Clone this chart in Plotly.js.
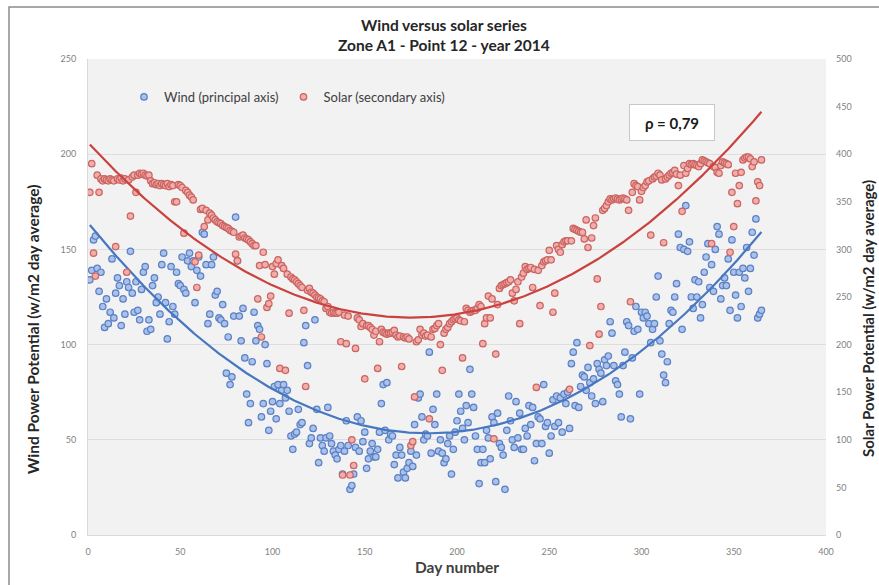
<!DOCTYPE html>
<html>
<head>
<meta charset="utf-8">
<script src="https://cdn.plot.ly/plotly-3.0.1.min.js"></script>
<style>
  html, body { margin: 0; padding: 0; background: #ffffff; }
  #chart { width: 879px; height: 585px; }
</style>
</head>
<body>
<div id="chart"></div>
<script>
// Daily wind power potential (w/m2 day average), days 1..365 - principal axis
const wind = [
  134, 139, 155, 157, 140, 128, 138, 120, 109, 124,
  111, 117, 145, 114, 127, 135, 131, 110, 124, 116,
  133, 130, 149, 127, 117, 133, 118, 113, 129, 138,
  141, 107, 113, 108, 131, 135, 122, 125, 116, 142,
  148, 122, 103, 112, 141, 120, 116, 138, 132, 131,
  146, 129, 127, 144, 148, 141, 144, 122, 139, 146,
  136, 159, 158, 142, 111, 116, 142, 146, 126, 128,
  114, 113, 121, 111, 85, 104, 79, 83, 115, 167,
  144, 115, 102, 119, 93, 74, 59, 69, 91, 117,
  102, 110, 108, 62, 69, 100, 90, 55, 65, 70,
  78, 61, 79, 69, 76, 79, 72, 76, 65, 52,
  45, 53, 54, 66, 58, 59, 101, 110, 89, 48,
  51, 56, 113, 66, 38, 51, 47, 44, 51, 67,
  52, 48, 44, 42, 40, 45, 47, 32, 44, 60,
  47, 24, 26, 32, 46, 62, 44, 60, 49, 54,
  35, 40, 44, 48, 41, 41, 45, 54, 69, 79,
  55, 80, 50, 53, 52, 37, 42, 30, 46, 42,
  33, 30, 35, 38, 44, 36, 58, 42, 72, 74,
  62, 50, 53, 52, 96, 43, 66, 58, 74, 44,
  50, 43, 38, 40, 48, 52, 32, 45, 54, 60,
  74, 65, 56, 50, 68, 59, 87, 74, 67, 52,
  45, 27, 38, 45, 38, 55, 51, 40, 62, 59,
  28, 64, 48, 46, 42, 24, 55, 73, 60, 50,
  46, 70, 51, 64, 45, 45, 56, 52, 68, 58,
  67, 39, 48, 62, 61, 48, 79, 57, 59, 43,
  52, 71, 57, 73, 59, 72, 54, 74, 69, 75,
  56, 90, 96, 68, 101, 67, 78, 84, 83, 76,
  88, 80, 73, 82, 69, 90, 87, 85, 70, 92,
  89, 94, 112, 106, 89, 81, 79, 74, 62, 89,
  96, 112, 110, 61, 93, 107, 120, 108, 74, 117,
  114, 117, 115, 111, 101, 108, 111, 125, 136, 102,
  95, 84, 80, 91, 111, 118, 117, 125, 132, 158,
  151, 108, 150, 173, 149, 154, 125, 119, 134, 125,
  133, 114, 121, 138, 146, 153, 130, 142, 128, 150,
  162, 158, 124, 131, 135, 131, 145, 118, 155, 138,
  126, 114, 138, 120, 140, 135, 151, 128, 140, 159,
  147, 166, 114, 116, 118
];

// Daily solar power potential (w/m2 day average), days 1..365 - secondary axis
const solar = [
  360, 390, 296, 272, 378, 360, 374, 372, 374, 373,
  372, 374, 373, 372, 303, 374, 373, 375, 372, 374,
  276, 373, 335, 376, 378, 360, 378, 380, 379, 380,
  378, 377, 378, 372, 369, 370, 368, 369, 367, 369,
  368, 367, 369, 366, 368, 367, 350, 350, 368, 367,
  365, 317, 362, 360, 357, 355, 352, 287, 260, 294,
  342, 343, 324, 341, 331, 338, 336, 333, 331, 329,
  328, 327, 325, 324, 323, 322, 320, 319, 318, 295,
  288, 313, 314, 315, 312, 311, 310, 308, 306, 304,
  304, 248, 283, 208, 297, 284, 239, 243, 251, 282,
  274, 285, 289, 175, 283, 280, 173, 274, 233, 271,
  269, 268, 266, 264, 262, 260, 236, 156, 257, 259,
  255, 254, 252, 250, 249, 248, 246, 245, 238, 240,
  234, 233, 234, 233, 233, 234, 203, 63, 231, 201,
  230, 63, 100, 73, 196, 228, 226, 219, 222, 164,
  220, 220, 218, 216, 210, 214, 175, 203, 216, 213,
  212, 211, 212, 212, 213, 215, 210, 208, 209, 177,
  208, 207, 208, 206, 94, 98, 145, 203, 205, 216,
  210, 212, 209, 210, 122, 208, 216, 217, 220, 222,
  200, 173, 212, 216, 218, 222, 224, 226, 227, 228,
  226, 225, 186, 224, 238, 236, 234, 235, 236, 236,
  238, 242, 240, 201, 222, 228, 251, 228, 248, 101,
  190, 242, 259, 262, 263, 264, 265, 266, 268, 254,
  246, 258, 266, 222, 271, 275, 282, 279, 280, 281,
  260, 279, 155, 278, 241, 283, 287, 288, 289, 299,
  289, 234, 254, 304, 300, 297, 305, 308, 309, 309,
  153, 309, 322, 321, 320, 319, 318, 318, 311, 331,
  302, 199, 312, 325, 333, 269, 211, 240, 341, 343,
  346, 350, 353, 352, 353, 354, 353, 352, 353, 354,
  353, 352, 341, 245, 360, 369, 367, 366, 352, 361,
  365, 367, 371, 372, 315, 374, 376, 377, 380, 378,
  373, 307, 374, 376, 378, 380, 381, 383, 379, 367,
  378, 340, 388, 380, 385, 390, 389, 390, 389, 388,
  387, 390, 394, 393, 392, 391, 390, 306, 387, 386,
  381, 380, 388, 392, 391, 390, 389, 297, 360, 324,
  380, 348, 367, 381, 394, 396, 397, 397, 395, 387,
  392, 351, 371, 367, 394
];

const xTicks = [0, 50, 100, 150, 200, 250, 300, 350, 400];
const windTicks = [0, 50, 100, 150, 200, 250];
const solarTicks = [0, 50, 100, 150, 200, 250, 300, 350, 400, 450, 500];
const rhoLabel = 'ρ = 0,79';

const days = wind.map((_, i) => i + 1);

// Second-order least-squares trend of a daily series
function quadFit(xs, ys) {
  let s = [0, 0, 0, 0, 0], t = [0, 0, 0];
  for (let i = 0; i < xs.length; i++) {
    const x = xs[i], y = ys[i];
    let p = 1;
    for (let k = 0; k < 5; k++) { s[k] += p; if (k < 3) t[k] += p * y; p *= x; }
  }
  // Solve [s0 s1 s2; s1 s2 s3; s2 s3 s4] * [c0 c1 c2] = t
  const A = [[s[0], s[1], s[2], t[0]], [s[1], s[2], s[3], t[1]], [s[2], s[3], s[4], t[2]]];
  for (let c = 0; c < 3; c++) {
    let piv = c;
    for (let r = c + 1; r < 3; r++) if (Math.abs(A[r][c]) > Math.abs(A[piv][c])) piv = r;
    [A[c], A[piv]] = [A[piv], A[c]];
    for (let r = 0; r < 3; r++) {
      if (r === c) continue;
      const f = A[r][c] / A[c][c];
      for (let k = c; k < 4; k++) A[r][k] -= f * A[c][k];
    }
  }
  const coef = [A[0][3] / A[0][0], A[1][3] / A[1][1], A[2][3] / A[2][2]];
  return xs.map(x => coef[0] + coef[1] * x + coef[2] * x * x);
}

const windTrend = quadFit(days, wind);
const solarTrend = quadFit(days, solar);

const font = 'Lato, "Open Sans", sans-serif';

const traces = [
  {
    x: days, y: wind, type: 'scatter', mode: 'markers', name: 'Wind (principal axis)',
    marker: { symbol: 'circle', size: 6.5, color: '#abc1e7', line: { color: '#5a80c8', width: 1.2 } },
    yaxis: 'y'
  },
  {
    x: days, y: solar, type: 'scatter', mode: 'markers', name: 'Solar (secondary axis)',
    marker: { symbol: 'circle', size: 6.5, color: '#efaeac', line: { color: '#cc6461', width: 1.2 } },
    yaxis: 'y2'
  },
  {
    x: days, y: windTrend, type: 'scatter', mode: 'lines', showlegend: false, hoverinfo: 'skip',
    line: { color: '#4677c0', width: 2.2 }, yaxis: 'y'
  },
  {
    x: days, y: solarTrend, type: 'scatter', mode: 'lines', showlegend: false, hoverinfo: 'skip',
    line: { color: '#c9423e', width: 2.2 }, yaxis: 'y2'
  }
];

const pxX = px => (px - 88) / 738;
const pxY = py => (535 - py) / 476;

const layout = {
  width: 879, height: 585,
  margin: { l: 88, r: 53, t: 59, b: 50, pad: 0 },
  paper_bgcolor: '#ffffff',
  plot_bgcolor: '#f2f2f2',
  font: { family: font, color: '#404040' },
  title: {
    text: 'Wind versus solar series<br>Zone A1 - Point 12 - year 2014',
    x: 0.505, xanchor: 'center', xref: 'container',
    y: 0.947, yanchor: 'top', yref: 'container',
    font: { family: font, size: 15.5, weight: 'bold', color: '#262626' }
  },
  showlegend: true,
  legend: {
    orientation: 'h', x: pxX(124), xanchor: 'left', y: pxY(97), yanchor: 'middle',
    bgcolor: 'rgba(0,0,0,0)', font: { family: font, size: 13, color: '#404040' },
    itemwidth: 30, tracegroupgap: 0
  },
  xaxis: {
    range: [0, 400], tickvals: xTicks, ticktext: xTicks.map(String),
    showgrid: false, zeroline: false, showline: true, linecolor: '#d9d9d9', linewidth: 1,
    ticks: '', ticklabelstandoff: 8,
    tickfont: { family: font, size: 9, color: '#7f7f7f' }
  },
  yaxis: {
    range: [0, 250], tickvals: windTicks, ticktext: windTicks.map(String),
    showgrid: true, gridcolor: '#dedede', gridwidth: 1,
    zeroline: false, showline: true, linecolor: '#d9d9d9', linewidth: 1,
    ticks: '', ticklabelstandoff: 9,
    tickfont: { family: font, size: 9, color: '#7f7f7f' }
  },
  yaxis2: {
    range: [0, 500], tickvals: solarTicks, ticktext: solarTicks.map(String),
    overlaying: 'y', side: 'right', showgrid: false, zeroline: false, showline: false,
    ticks: '', ticklabelstandoff: 9,
    tickfont: { family: font, size: 9, color: '#7f7f7f' }
  },
  annotations: [
    {
      text: rhoLabel, xref: 'paper', yref: 'paper', x: pxX(672), y: pxY(123),
      xanchor: 'center', yanchor: 'middle', showarrow: false,
      font: { family: font, size: 15, weight: 'bold', color: '#1a1a1a' },
      bgcolor: '#ffffff', bordercolor: '#c8c8c8', borderwidth: 1,
      width: 82, height: 33, align: 'center'
    },
    {
      text: 'Wind Power Potential (w/m2 day average)', xref: 'paper', yref: 'paper',
      x: pxX(33), y: pxY(330), xanchor: 'center', yanchor: 'middle', textangle: -90, showarrow: false,
      font: { family: font, size: 15.5, weight: 'bold', color: '#262626' }
    },
    {
      text: 'Solar Power Potential (w/m2 day average)', xref: 'paper', yref: 'paper',
      x: pxX(868), y: pxY(319), xanchor: 'center', yanchor: 'middle', textangle: -90, showarrow: false,
      font: { family: font, size: 15, weight: 'bold', color: '#262626' }
    },
    {
      text: 'Day number', xref: 'paper', yref: 'paper',
      x: pxX(457), y: pxY(567), xanchor: 'center', yanchor: 'middle', showarrow: false,
      font: { family: font, size: 15.5, weight: 'bold', color: '#404040' }
    }
  ],
  shapes: [
    {
      type: 'rect', xref: 'paper', yref: 'paper', layer: 'below',
      x0: pxX(9), x1: pxX(905), y0: pxY(610), y1: pxY(7),
      line: { color: '#8c8c8c', width: 1.5 }, fillcolor: 'rgba(0,0,0,0)'
    }
  ]
};

Plotly.newPlot('chart', traces, layout, { displayModeBar: false, staticPlot: true });
</script>
</body>
</html>
